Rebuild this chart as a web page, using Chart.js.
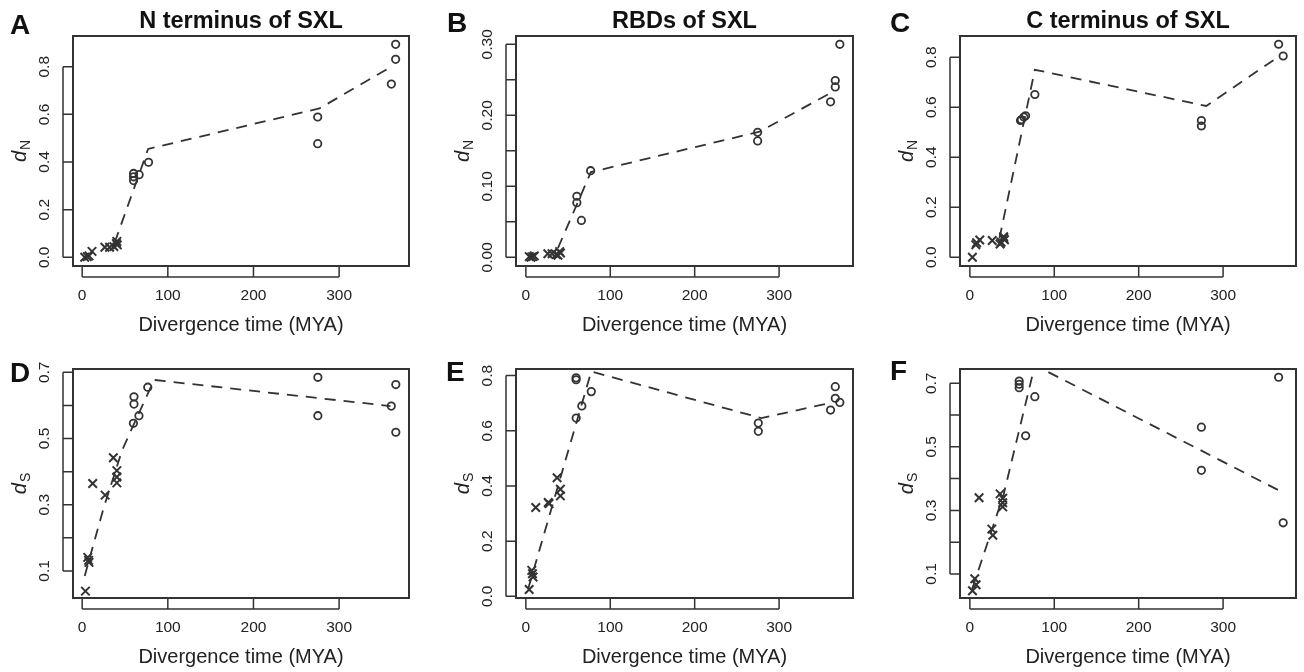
<!DOCTYPE html>
<html>
<head>
<meta charset="utf-8">
<script src="https://cdn.jsdelivr.net/npm/chart.js"></script>
<style>
html, body { margin: 0; padding: 0; background: #fff; overflow: hidden; }
#fig { position: relative; width: 1304px; height: 672px; }
#fig canvas { position: absolute; }
</style>
</head>
<body>
<div id="fig"></div>
<script>
// ---- values (x = divergence time, MYA) ----

// A: dN, N terminus
const nTermCrossT = [3, 6, 8, 11.5, 26.5, 32, 37, 40, 40.5, 41];
const nTermCrossDN = [0.0, 0.003, 0.006, 0.025, 0.042, 0.042, 0.045, 0.058, 0.067, 0.052];
const nTermCircT = [60, 60, 60, 66.5, 77.5, 275, 275, 361, 366, 366];
const nTermCircDN = [0.352, 0.338, 0.322, 0.347, 0.399, 0.589, 0.477, 0.727, 0.831, 0.894];
const nTermFitT = [38, 77, 277, 360];
const nTermFitDN = [0.062, 0.455, 0.625, 0.798];

// B: dN, RBDs
const rbdCrossT = [4, 6, 8, 10, 26, 31, 36, 38, 40, 41];
const rbdCrossDN = [0.001, 0.0, 0.001, 0.002, 0.005, 0.005, 0.004, 0.003, 0.008, 0.006];
const rbdCircT = [60.4, 60.4, 65.8, 76.7, 274.6, 274.6, 361, 366.6, 366.6, 372];
const rbdCircDN = [0.086, 0.077, 0.052, 0.122, 0.176, 0.164, 0.219, 0.249, 0.240, 0.300];
const rbdFitT = [38, 77, 277, 362];
const rbdFitDN = [0.013, 0.12, 0.177, 0.232];

// C: dN, C terminus
const cTermCrossT = [3, 7, 8, 11.7, 26.5, 35.8, 37, 40, 40, 41];
const cTermCrossDN = [0.0, 0.05, 0.058, 0.069, 0.067, 0.053, 0.06, 0.076, 0.082, 0.07];
const cTermCircT = [60, 61, 64, 66, 77, 274.3, 274.3, 365.8, 371.2];
const cTermCircDN = [0.547, 0.55, 0.561, 0.566, 0.651, 0.547, 0.525, 0.852, 0.805];
const cTermFitT = [35, 77, 280, 360];
const cTermFitDN = [0.075, 0.75, 0.605, 0.789];

// D: dS, N terminus
const nTermSCrossT = [3.8, 6.5, 7.5, 8, 12.3, 26.8, 36.4, 40.5, 40.5, 40.5];
const nTermSCrossDS = [0.039, 0.141, 0.132, 0.126, 0.364, 0.329, 0.442, 0.403, 0.384, 0.366];
const nTermSCircT = [60.5, 60.5, 59.8, 66.3, 76.6, 275.2, 275.2, 360.9, 366.2, 366.2];
const nTermSCircDS = [0.626, 0.604, 0.546, 0.569, 0.655, 0.685, 0.569, 0.598, 0.663, 0.519];
const nTermSFitT = [3, 25, 47, 84, 360];
const nTermSFitDS = [0.085, 0.29, 0.467, 0.677, 0.598];

// E: dS, RBDs
const rbdSCrossT = [3.9, 7, 7.8, 8.5, 11.7, 26.5, 27.5, 37, 40.9, 40.9];
const rbdSCrossDS = [0.025, 0.094, 0.082, 0.07, 0.322, 0.340, 0.336, 0.430, 0.388, 0.364];
const rbdSCircT = [59.5, 59.5, 59.6, 66.3, 77.5, 275.4, 275.4, 361, 366.6, 366.6, 372];
const rbdSCircDS = [0.792, 0.785, 0.646, 0.690, 0.742, 0.628, 0.598, 0.675, 0.760, 0.718, 0.703];
const rbdSFitT = [3, 77.5, 279, 359];
const rbdSFitDS = [0.03, 0.815, 0.646, 0.70];

// F: dS, C terminus
const cTermSCrossT = [3.1, 5.8, 7.4, 10.9, 26, 27.2, 35.8, 38.9, 38.9, 38.9];
const cTermSCrossDS = [0.047, 0.085, 0.066, 0.34, 0.241, 0.222, 0.352, 0.338, 0.324, 0.311];
const cTermSCircT = [58.4, 58.4, 58.4, 66.1, 77, 274.3, 274.3, 365.8, 371.2];
const cTermSCircDS = [0.707, 0.697, 0.686, 0.535, 0.658, 0.562, 0.426, 0.719, 0.261];
const cTermSFitT = [3, 40, 77, 372];
const cTermSFitDS = [0.055, 0.35, 0.757, 0.355];

// axis ticks
const timeTicks = [0, 100, 200, 300];
const dnTicks = [0, 0.2, 0.4, 0.6, 0.8];
const dnLabels = ['0.0', '0.2', '0.4', '0.6', '0.8'];
const rbdTicks = [0, 0.05, 0.10, 0.15, 0.20, 0.25, 0.30];
const rbdLabels = ['0.00', '', '0.10', '', '0.20', '', '0.30'];
const dsTicks = [0.1, 0.2, 0.3, 0.4, 0.5, 0.6, 0.7];
const dsLabels = ['0.1', '', '0.3', '', '0.5', '', '0.7'];

const FONT = '"Liberation Sans", Arial, Helvetica, sans-serif';
const INK = '#333';

function pts(xs, ys) { return xs.map((x, i) => ({ x, y: ys[i] })); }

// R-style frame: box, detached axes, rotated y labels, titles
const frame = {
    id: 'frame',
    afterDraw(chart, args, o) {
        const ctx = chart.ctx;
        const { left, right, top, bottom } = chart.chartArea;
        const sx = chart.scales.x, sy = chart.scales.y;
        ctx.save();
        ctx.strokeStyle = INK;
        ctx.fillStyle = '#222';
        ctx.lineWidth = 2;
        ctx.strokeRect(left, top, right - left, bottom - top);

        ctx.lineWidth = 1.5;
        const ax = bottom + 11;
        ctx.beginPath();
        ctx.moveTo(sx.getPixelForValue(o.xTicks[0]), ax);
        ctx.lineTo(sx.getPixelForValue(o.xTicks[o.xTicks.length - 1]), ax);
        o.xTicks.forEach(v => {
            const p = sx.getPixelForValue(v);
            ctx.moveTo(p, bottom + 1);
            ctx.lineTo(p, ax);
        });
        const ay = left - 10;
        ctx.moveTo(ay, sy.getPixelForValue(o.yTicks[0]));
        ctx.lineTo(ay, sy.getPixelForValue(o.yTicks[o.yTicks.length - 1]));
        o.yTicks.forEach(v => {
            const p = sy.getPixelForValue(v);
            ctx.moveTo(ay, p);
            ctx.lineTo(left - 1, p);
        });
        ctx.stroke();

        ctx.font = '15.5px ' + FONT;
        ctx.textAlign = 'center';
        ctx.textBaseline = 'middle';
        o.xTicks.forEach(v => ctx.fillText(String(v), sx.getPixelForValue(v), bottom + 30));
        o.yTicks.forEach((v, i) => {
            if (!o.yLabels[i]) return;
            ctx.save();
            ctx.translate(left - 28, sy.getPixelForValue(v));
            ctx.rotate(-Math.PI / 2);
            ctx.fillText(o.yLabels[i], 0, 0);
            ctx.restore();
        });

        ctx.font = '20px ' + FONT;
        ctx.fillText('Divergence time (MYA)', (left + right) / 2, bottom + 59);

        // y title: italic d with subscript
        ctx.save();
        ctx.translate(left - 54, (top + bottom) / 2);
        ctx.rotate(-Math.PI / 2);
        ctx.textAlign = 'left';
        ctx.textBaseline = 'alphabetic';
        ctx.font = 'italic 20px ' + FONT;
        const wd = ctx.measureText('d').width;
        ctx.font = '14px ' + FONT;
        const ws = ctx.measureText(o.sub).width;
        const x0 = -(wd + ws + 1) / 2;
        ctx.font = 'italic 20px ' + FONT;
        ctx.fillText('d', x0, 7);
        ctx.font = '14px ' + FONT;
        ctx.fillText(o.sub, x0 + wd + 1, 11);
        ctx.restore();

        ctx.fillStyle = '#111';
        ctx.textBaseline = 'alphabetic';
        if (o.title) {
            ctx.textAlign = 'center';
            ctx.font = 'bold 23.5px ' + FONT;
            ctx.fillText(o.title, (left + right) / 2, top - 8.5);
        }
        ctx.textAlign = 'left';
        ctx.font = 'bold 28px ' + FONT;
        ctx.fillText(o.letter, left + o.letterDx, top + o.letterDy);
        ctx.restore();
    }
};

const panels = [
    { letter: 'A', title: 'N terminus of SXL', sub: 'N', box: [73, 36, 414, 266], letterDx: -63, letterDy: -2,
      xr: [-10.7, 381.6], yr: [-0.0365, 0.929], yTicks: dnTicks, yLabels: dnLabels,
      cross: pts(nTermCrossT, nTermCrossDN), circ: pts(nTermCircT, nTermCircDN), fit: pts(nTermFitT, nTermFitDN) },
    { letter: 'B', title: 'RBDs of SXL', sub: 'N', box: [516, 36, 858, 266], letterDx: -69, letterDy: -4,
      xr: [-11.7, 387.6], yr: [-0.0122, 0.3117], yTicks: rbdTicks, yLabels: rbdLabels,
      cross: pts(rbdCrossT, rbdCrossDN), circ: pts(rbdCircT, rbdCircDN), fit: pts(rbdFitT, rbdFitDN) },
    { letter: 'C', title: 'C terminus of SXL', sub: 'N', box: [960, 36, 1301, 266], letterDx: -70, letterDy: -4,
      xr: [-11.7, 386.4], yr: [-0.035, 0.885], yTicks: dnTicks, yLabels: dnLabels,
      cross: pts(cTermCrossT, cTermCrossDN), circ: pts(cTermCircT, cTermCircDN), fit: pts(cTermFitT, cTermFitDN) },
    { letter: 'D', title: '', sub: 'S', box: [73, 369, 414, 598], letterDx: -63, letterDy: 13,
      xr: [-10.7, 381.6], yr: [0.0183, 0.710], yTicks: dsTicks, yLabels: dsLabels,
      cross: pts(nTermSCrossT, nTermSCrossDS), circ: pts(nTermSCircT, nTermSCircDS), fit: pts(nTermSFitT, nTermSFitDS) },
    { letter: 'E', title: '', sub: 'S', box: [516, 369, 858, 598], letterDx: -70, letterDy: 12,
      xr: [-11.7, 387.6], yr: [-0.006, 0.824], yTicks: dnTicks, yLabels: dnLabels,
      cross: pts(rbdSCrossT, rbdSCrossDS), circ: pts(rbdSCircT, rbdSCircDS), fit: pts(rbdSFitT, rbdSFitDS) },
    { letter: 'F', title: '', sub: 'S', box: [960, 369, 1301, 598], letterDx: -70, letterDy: 11,
      xr: [-11.7, 386.4], yr: [0.0243, 0.745], yTicks: dsTicks, yLabels: dsLabels,
      cross: pts(cTermSCrossT, cTermSCrossDS), circ: pts(cTermSCircT, cTermSCircDS), fit: pts(cTermSFitT, cTermSFitDS) }
];

const fig = document.getElementById('fig');
panels.forEach(p => {
    const [l, t, r, b] = p.box;
    const cv = document.createElement('canvas');
    cv.width = r - l + 75;
    cv.height = b - t + 108;
    cv.style.left = (l - 72) + 'px';
    cv.style.top = (t - 36) + 'px';
    fig.appendChild(cv);

    new Chart(cv.getContext('2d'), {
        type: 'scatter',
        data: {
            datasets: [
                { data: p.fit, showLine: true, pointRadius: 0, borderColor: INK, borderWidth: 1.8,
                  borderDash: [11, 8], fill: false, tension: 0 },
                { data: p.cross, pointStyle: 'crossRot', pointRadius: 6, borderColor: INK,
                  pointBorderWidth: 2, backgroundColor: 'transparent' },
                { data: p.circ, pointStyle: 'circle', pointRadius: 3.7, borderColor: INK,
                  pointBorderWidth: 1.8, backgroundColor: 'transparent' }
            ]
        },
        options: {
            responsive: false,
            animation: false,
            devicePixelRatio: 1,
            events: [],
            layout: { padding: { top: 36, right: 3, left: 0, bottom: 0 } },
            plugins: {
                legend: { display: false },
                tooltip: { enabled: false },
                frame: { xTicks: timeTicks, yTicks: p.yTicks, yLabels: p.yLabels, sub: p.sub,
                         title: p.title, letter: p.letter, letterDx: p.letterDx, letterDy: p.letterDy }
            },
            scales: {
                x: { type: 'linear', min: p.xr[0], max: p.xr[1],
                     ticks: { display: false }, grid: { display: false }, border: { display: false },
                     afterFit: s => { s.height = 72; } },
                y: { type: 'linear', min: p.yr[0], max: p.yr[1],
                     ticks: { display: false }, grid: { display: false }, border: { display: false },
                     afterFit: s => { s.width = 72; } }
            }
        },
        plugins: [frame]
    });
});
</script>
</body>
</html>
